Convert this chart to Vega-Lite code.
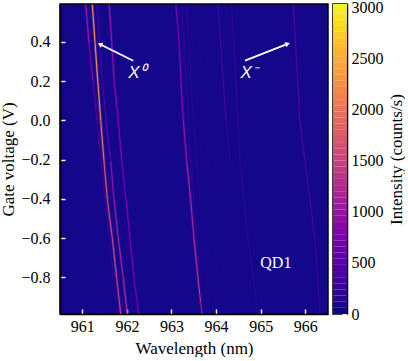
{"$schema":"https://vega.github.io/schema/vega-lite/v6.json","padding":{"left":-1,"top":-2,"right":0,"bottom":0},"background":"white","spacing":3,"config":{"font":"Liberation Serif","view":{"stroke":"black","strokeWidth":1.5},"axis":{"labelFont":"Liberation Serif","titleFont":"Liberation Serif","labelFontSize":16,"titleFontSize":17,"titleFontWeight":"normal","labelColor":"black","titleColor":"black","tickColor":"white","tickWidth":1.4,"tickSize":-5,"grid":false,"domainColor":"black","domainWidth":1.5}},"datasets":{"lines":[
{"s":"A","w1":961.224,"v1":0.59,"w2":961.285,"v2":0.397,"i":2100},{"s":"A","w1":961.285,"v1":0.397,"w2":961.348,"v2":0.198,"i":2150},{"s":"A","w1":961.348,"v1":0.198,"w2":961.413,"v2":0,"i":2050},{"s":"A","w1":961.413,"v1":0,"w2":961.487,"v2":-0.209,"i":1900},{"s":"A","w1":961.487,"v1":-0.209,"w2":961.561,"v2":-0.402,"i":1600},{"s":"A","w1":961.561,"v1":-0.402,"w2":961.673,"v2":-0.6,"i":1450},{"s":"A","w1":961.673,"v1":-0.6,"w2":961.771,"v2":-0.804,"i":1450},{"s":"A","w1":961.771,"v1":-0.804,"w2":961.861,"v2":-0.987,"i":1350},
{"s":"B","w1":961.076,"v1":0.59,"w2":961.15,"v2":0.397,"i":1000},{"s":"B","w1":961.15,"v1":0.397,"w2":961.24,"v2":0.198,"i":750},{"s":"B","w1":961.24,"v1":0.198,"w2":961.33,"v2":0,"i":450},{"s":"B","w1":961.33,"v1":0,"w2":961.419,"v2":-0.209,"i":300},{"s":"B","w1":961.419,"v1":-0.209,"w2":961.509,"v2":-0.402,"i":220},{"s":"B","w1":961.509,"v1":-0.402,"w2":961.605,"v2":-0.6,"i":180},{"s":"B","w1":961.605,"v1":-0.6,"w2":961.695,"v2":-0.804,"i":130},{"s":"B","w1":961.695,"v1":-0.804,"w2":961.785,"v2":-0.987,"i":90},
{"s":"C","w1":961.33,"v1":0.59,"w2":961.386,"v2":0.397,"i":260},{"s":"C","w1":961.386,"v1":0.397,"w2":961.453,"v2":0.198,"i":280},{"s":"C","w1":961.453,"v1":0.198,"w2":961.531,"v2":0,"i":350},{"s":"C","w1":961.531,"v1":0,"w2":961.637,"v2":-0.209,"i":500},{"s":"C","w1":961.637,"v1":-0.209,"w2":961.711,"v2":-0.402,"i":900},{"s":"C","w1":961.711,"v1":-0.402,"w2":961.807,"v2":-0.6,"i":1000},{"s":"C","w1":961.807,"v1":-0.6,"w2":961.919,"v2":-0.804,"i":1050},{"s":"C","w1":961.919,"v1":-0.804,"w2":962.009,"v2":-0.987,"i":1150},
{"s":"D","w1":961.605,"v1":0.59,"w2":961.659,"v2":0.397,"i":950},{"s":"D","w1":961.659,"v1":0.397,"w2":961.717,"v2":0.198,"i":900},{"s":"D","w1":961.717,"v1":0.198,"w2":961.807,"v2":0,"i":800},{"s":"D","w1":961.807,"v1":0,"w2":961.883,"v2":-0.209,"i":750},{"s":"D","w1":961.883,"v1":-0.209,"w2":961.98,"v2":-0.402,"i":650},{"s":"D","w1":961.98,"v1":-0.402,"w2":962.07,"v2":-0.6,"i":700},{"s":"D","w1":962.07,"v1":-0.6,"w2":962.159,"v2":-0.804,"i":700},{"s":"D","w1":962.159,"v1":-0.804,"w2":962.265,"v2":-0.987,"i":650},
{"s":"E","w1":963.101,"v1":0.59,"w2":963.168,"v2":0.397,"i":700},{"s":"E","w1":963.168,"v1":0.397,"w2":963.213,"v2":0.198,"i":750},{"s":"E","w1":963.213,"v1":0.198,"w2":963.265,"v2":0,"i":850},{"s":"E","w1":963.265,"v1":0,"w2":963.341,"v2":-0.209,"i":950},{"s":"E","w1":963.341,"v1":-0.209,"w2":963.43,"v2":-0.402,"i":1100},{"s":"E","w1":963.43,"v1":-0.402,"w2":963.504,"v2":-0.6,"i":1100},{"s":"E","w1":963.504,"v1":-0.6,"w2":963.594,"v2":-0.804,"i":1200},{"s":"E","w1":963.594,"v1":-0.804,"w2":963.691,"v2":-0.987,"i":1300},
{"s":"F","w1":963.229,"v1":0.59,"w2":963.38,"v2":0,"i":170},{"s":"F","w1":963.38,"v1":0,"w2":963.5,"v2":-0.402,"i":150},{"s":"F","w1":963.5,"v1":-0.402,"w2":963.7,"v2":-0.987,"i":120},
{"s":"F2","w1":963.341,"v1":0.59,"w2":963.49,"v2":0,"i":130},{"s":"F2","w1":963.49,"v1":0,"w2":963.63,"v2":-0.402,"i":100},{"s":"F2","w1":963.63,"v1":-0.402,"w2":963.86,"v2":-0.987,"i":80},
{"s":"G","w1":964.043,"v1":0.59,"w2":964.222,"v2":0,"i":300},{"s":"G","w1":964.222,"v1":0,"w2":964.312,"v2":-0.209,"i":170},{"s":"G","w1":964.312,"v1":-0.209,"w2":964.715,"v2":-0.987,"i":80},
{"s":"H","w1":964.35,"v1":0.59,"w2":964.536,"v2":-0.209,"i":180},{"s":"H","w1":964.536,"v1":-0.209,"w2":964.715,"v2":-0.6,"i":150},{"s":"H","w1":964.715,"v1":-0.6,"w2":964.94,"v2":-0.987,"i":140},
{"s":"I","w1":965.731,"v1":0.59,"w2":965.881,"v2":0,"i":380},{"s":"I","w1":965.881,"v1":0,"w2":965.993,"v2":-0.209,"i":330},{"s":"I","w1":965.993,"v1":-0.209,"w2":966.217,"v2":-0.6,"i":280},{"s":"I","w1":966.217,"v1":-0.6,"w2":966.33,"v2":-0.987,"i":200},
{"s":"J","w1":963.565,"v1":0.59,"w2":964.087,"v2":-0.987,"i":70},{"s":"K","w1":963.818,"v1":0.59,"w2":964.31,"v2":-0.987,"i":60},{"s":"L","w1":960.785,"v1":0.59,"w2":961.4,"v2":-0.987,"i":50}
],"arrows":[{"w1":962.143,"v1":0.304,"w2":961.397,"v2":0.388,"a":297},{"w1":964.648,"v1":0.304,"w2":965.605,"v2":0.39,"a":68}],"labelsX":[{"w":962.226,"v":0.239,"t":"X⁰"},{"w":964.74,"v":0.239,"t":"X⁻"}],"labelsQ":[{"w":965.34,"v":-0.728,"t":"QD1"}],"bar":[
{"a":0,"b":60},{"a":60,"b":120},{"a":120,"b":180},{"a":180,"b":240},{"a":240,"b":300},{"a":300,"b":360},{"a":360,"b":420},{"a":420,"b":480},{"a":480,"b":540},{"a":540,"b":600},{"a":600,"b":660},{"a":660,"b":720},{"a":720,"b":780},{"a":780,"b":840},{"a":840,"b":900},{"a":900,"b":960},{"a":960,"b":1020},{"a":1020,"b":1080},{"a":1080,"b":1140},{"a":1140,"b":1200},{"a":1200,"b":1260},{"a":1260,"b":1320},{"a":1320,"b":1380},{"a":1380,"b":1440},{"a":1440,"b":1500},{"a":1500,"b":1560},{"a":1560,"b":1620},{"a":1620,"b":1680},{"a":1680,"b":1740},{"a":1740,"b":1800},{"a":1800,"b":1860},{"a":1860,"b":1920},{"a":1920,"b":1980},{"a":1980,"b":2040},{"a":2040,"b":2100},{"a":2100,"b":2160},{"a":2160,"b":2220},{"a":2220,"b":2280},{"a":2280,"b":2340},{"a":2340,"b":2400},{"a":2400,"b":2460},{"a":2460,"b":2520},{"a":2520,"b":2580},{"a":2580,"b":2640},{"a":2640,"b":2700},{"a":2700,"b":2760},{"a":2760,"b":2820},{"a":2820,"b":2880},{"a":2880,"b":2940},{"a":2940,"b":3000},{"a":3000,"b":3030}]},
"hconcat":[{"width":268,"height":310,"view":{"fill":"#15078c","stroke":"black","strokeWidth":1.5},"layer":[
{"data":{"name":"lines"},"mark":{"type":"rule","strokeWidth":2.8,"opacity":0.22,"clip":true},"encoding":{"x":{"field":"w1","type":"quantitative","scale":{"domain":[960.5,966.51],"nice":false,"zero":false},"axis":{"title":"Wavelength (nm)","values":[961,962,963,964,965,966],"format":"d","labelPadding":9,"titlePadding":6,"labelFlush":false}},"y":{"field":"v1","type":"quantitative","scale":{"domain":[-0.987,0.593],"nice":false,"zero":false},"axis":{"title":"Gate voltage (V)","values":[-0.8,-0.6,-0.4,-0.2,0,0.2,0.4],"format":".1f","labelPadding":15,"titlePadding":3,"labelFlush":false}},"x2":{"field":"w2"},"y2":{"field":"v2"},"color":{"field":"i","type":"quantitative","scale":{"scheme":"plasma","domain":[0,3030]},"legend":null}}},
{"data":{"name":"lines"},"mark":{"type":"rule","strokeWidth":1.2,"clip":true},"encoding":{"x":{"field":"w1","type":"quantitative"},"y":{"field":"v1","type":"quantitative"},"x2":{"field":"w2"},"y2":{"field":"v2"},"color":{"field":"i","type":"quantitative","scale":{"scheme":"plasma","domain":[0,3030]},"legend":null}}},
{"data":{"name":"arrows"},"mark":{"type":"rule","color":"white","strokeWidth":1.8},"encoding":{"x":{"field":"w1","type":"quantitative"},"y":{"field":"v1","type":"quantitative"},"x2":{"field":"w2"},"y2":{"field":"v2"}}},
{"data":{"name":"arrows"},"mark":{"type":"point","shape":"triangle-up","filled":true,"color":"white","opacity":1,"size":30},"encoding":{"x":{"field":"w2","type":"quantitative"},"y":{"field":"v2","type":"quantitative"},"angle":{"field":"a","type":"quantitative","scale":null}}},
{"data":{"name":"labelsX"},"mark":{"type":"text","color":"white","align":"center","baseline":"middle","font":"Liberation Sans","fontStyle":"italic","fontSize":17},"encoding":{"x":{"field":"w","type":"quantitative"},"y":{"field":"v","type":"quantitative"},"text":{"field":"t"}}},
{"data":{"name":"labelsQ"},"mark":{"type":"text","color":"white","align":"center","baseline":"middle","font":"Liberation Serif","fontSize":16},"encoding":{"x":{"field":"w","type":"quantitative"},"y":{"field":"v","type":"quantitative"},"text":{"field":"t"}}}
]},
{"width":14,"height":310,"data":{"name":"bar"},"mark":{"type":"rect"},"encoding":{"y":{"field":"a","type":"quantitative","scale":{"domain":[0,3030],"nice":false},"axis":{"orient":"right","title":"Intensity (counts/s)","titleAngle":270,"titleBaseline":"top","format":"d","values":[0,500,1000,1500,2000,2500,3000],"labelPadding":9,"titlePadding":5,"labelFlush":false}},"y2":{"field":"b"},"color":{"field":"a","type":"quantitative","scale":{"scheme":"plasma","domain":[0,3030]},"legend":null}}}
]}
